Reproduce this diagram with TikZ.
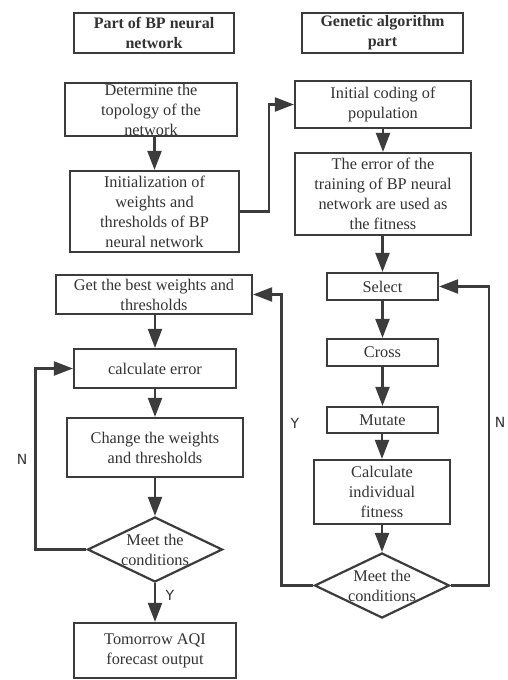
\documentclass[tikz,border=0pt]{standalone}
\usepackage{fontspec}
\setmainfont{Liberation Serif}
\newfontfamily\lblfont{DejaVu Sans}
\usetikzlibrary{shapes.geometric,arrows.meta}
\definecolor{ln}{HTML}{3C3C3C}
\definecolor{tx}{HTML}{333333}
\begin{document}
\begin{tikzpicture}[x=1pt,y=-1pt,
  every node/.style={text=tx},
  box/.style={draw=ln,line width=2.2pt,rectangle,inner sep=0pt,align=center,
    font=\fontsize{16.3}{20}\selectfont},
  ttl/.style={box,font=\fontsize{16}{20}\selectfont\bfseries},
  dia/.style={draw=ln,line width=2.2pt,diamond,inner sep=0pt},
  dtext/.style={align=center,font=\fontsize{16.3}{20}\selectfont,inner sep=0pt},
  conn/.style={draw=ln,line width=2.2pt},
  arr/.style={conn,-{Triangle[width=14pt,length=19pt]}},
  yn/.style={font=\lblfont\fontsize{14}{16}\selectfont,text=tx}]
\useasboundingbox[fill=white] (0,0) rectangle (508,680);
% titles
\node[ttl,minimum width=160pt,minimum height=40pt] (t1) at (154,33) {Part of BP neural\\network};
\node[ttl,minimum width=161pt,minimum height=40pt] (t2) at (382.5,33) {Genetic algorithm\\part};
% left column
\node[box,minimum width=172pt,minimum height=53pt] (det) at (151,109.5) {Determine the\\topology of the\\network};
\node[box,minimum width=169pt,minimum height=81pt] (init) at (154.5,211.5) {Initialization of\\weights and\\thresholds of BP\\neural network};
\node[box,minimum width=196pt,minimum height=39pt] (best) at (154,294.5) {Get the best weights and\\thresholds};
\node[box,minimum width=162pt,minimum height=39pt] (cerr) at (155,368.5) {calculate error};
\node[box,minimum width=176pt,minimum height=59pt] (chg) at (155,447.5) {Change the weights\\and thresholds};
\node[dia,minimum width=135pt,minimum height=65pt] (d1) at (155,549.5) {};
\node[dtext] (d1t) at (d1.center) {Meet the\\conditions};
\node[box,minimum width=162pt,minimum height=55pt] (tom) at (155,650.5) {Tomorrow AQI\\forecast output};
% right column
\node[box,minimum width=176pt,minimum height=47pt] (code) at (383,104.5) {Initial coding of\\population};
\node[box,minimum width=176pt,minimum height=82pt] (err) at (383,194) {The error of the\\training of BP neural\\network are used as\\the fitness};
\node[box,minimum width=111pt,minimum height=27pt] (sel) at (382.5,286.5) {Select};
\node[box,minimum width=111pt,minimum height=27pt] (cro) at (382.5,352.5) {Cross};
\node[box,minimum width=111pt,minimum height=26pt] (mut) at (382.5,420) {Mutate};
\node[box,minimum width=136pt,minimum height=64pt] (calc) at (382,492) {Calculate\\individual\\fitness};
\node[dia,minimum width=135pt,minimum height=65pt] (d2) at (382,585.5) {};
\node[dtext] (d2t) at (d2.center) {Meet the\\conditions};
% connectors left
\draw[arr] (det.south -| init.north) -- (init.north);
\draw[arr] (best.south -| cerr.north) -- (cerr.north);
\draw[arr] (cerr.south) -- (chg.north);
\draw[arr] (chg.south) -- (d1.north);
\draw[arr] (d1.south) -- (tom.north);
\draw[arr] (d1.west) -- ++(-51,0) coordinate (n1) |- (cerr.west);
% init to code
\draw[arr] (init.east) -- ++(29,0) coordinate (j1) |- (code.west);
% connectors right
\draw[arr] (code.south) -- (err.north);
\draw[arr] (err.south -| sel.north) -- (sel.north);
\draw[arr] (sel.south) -- (cro.north);
\draw[arr] (cro.south) -- (mut.north);
\draw[arr] (mut.south -| calc.north) -- (calc.north);
\draw[arr] (calc.south -| d2.north) -- (d2.north);
\draw[arr] (d2.east) -- ++(38,0) coordinate (n2) |- (sel.east);
\draw[arr] (d2.west) -- ++(-32,0) coordinate (y2) |- (best.east);
% labels
\node[yn] (ly1) at (170,595) {Y};
\node[yn] (ln1) at (22,459) {N};
\node[yn] (ly2) at (295,423) {Y};
\node[yn] (ln2) at (500,422) {N};
\end{tikzpicture}
\end{document}
